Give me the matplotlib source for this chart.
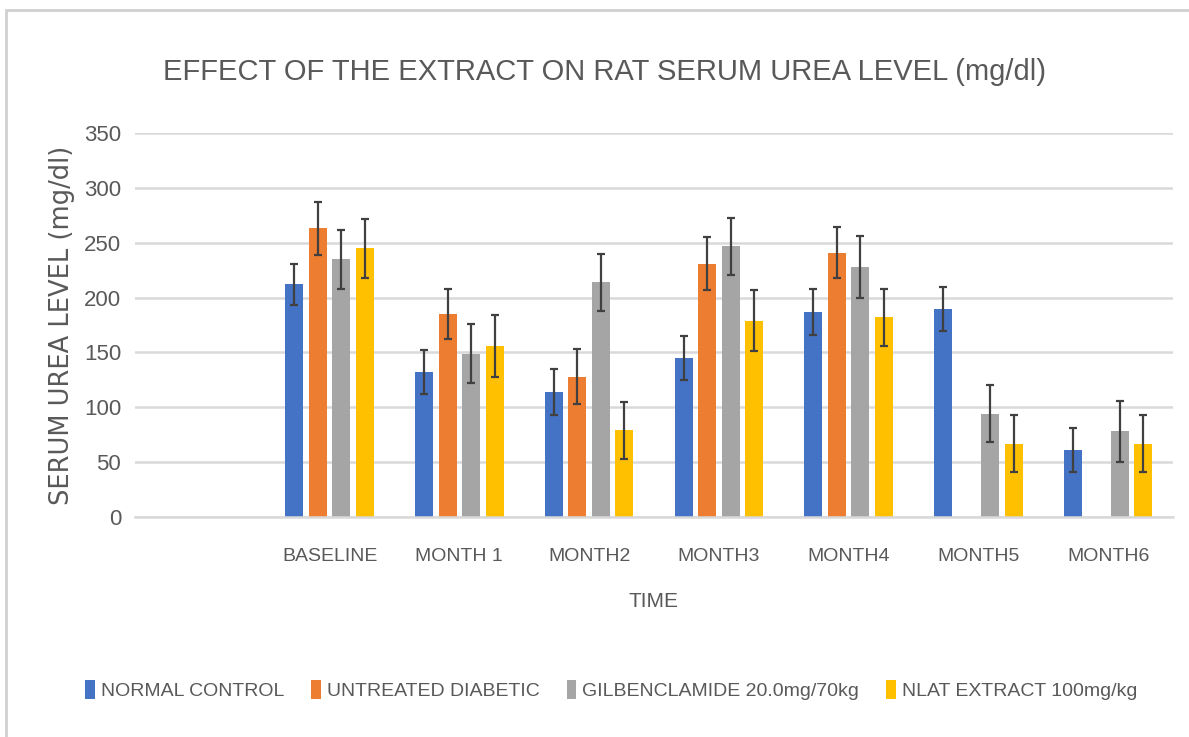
import numpy as np
import matplotlib.pyplot as plt
from matplotlib.patches import Rectangle

# Data
categories = ["", "BASELINE", "MONTH 1", "MONTH2", "MONTH3", "MONTH4", "MONTH5", "MONTH6"]
series_names = ["NORMAL CONTROL", "UNTREATED DIABETIC",
                "GILBENCLAMIDE 20.0mg/70kg", "NLAT EXTRACT 100mg/kg"]

normal = [np.nan, 212, 132, 114, 145, 187, 190, 61]
untreated = [np.nan, 263, 185, 128, 231, 241, np.nan, np.nan]
gliben = [np.nan, 235, 149, 214, 247, 228, 94, 78]
nlat = [np.nan, 245, 156, 79, 179, 182, 67, 67]

normal_err = [0, 19, 20, 21, 20, 21, 20, 20]
untreated_err = [0, 24, 23, 25, 24, 23, 0, 0]
gliben_err = [0, 27, 27, 26, 26, 28, 26, 28]
nlat_err = [0, 27, 28, 26, 28, 26, 26, 26]

colors = ["#4472C4", "#ED7D31", "#A5A5A5", "#FFC000"]

font_narrow = ["Liberation Sans", "DejaVu Sans"]
text_color = "#595959"

fig = plt.figure(figsize=(11.89, 7.37), dpi=100)
ax = fig.add_axes([0.1135, 0.2985, 0.873, 0.521])

x = np.arange(len(categories))
step = 0.181
width = 0.139
values = [normal, untreated, gliben, nlat]
errors = [normal_err, untreated_err, gliben_err, nlat_err]

for i in range(4):
    pos = x + (i - 1.5) * step
    vals = np.array(values[i], dtype=float)
    errs = np.array(errors[i], dtype=float)
    mask = ~np.isnan(vals)
    ax.bar(pos[mask], vals[mask], width, color=colors[i], label=series_names[i], zorder=2)
    ax.errorbar(pos[mask], vals[mask], yerr=errs[mask], fmt="none", ecolor="#404040",
                elinewidth=1.6, capsize=3.2, capthick=1.6, zorder=3)

ax.set_xlim(-0.5, 7.5)
ax.set_ylim(0, 350)
ax.set_yticks(np.arange(0, 351, 50))
ax.grid(axis="y", color="#D9D9D9", linewidth=1.8, zorder=0)
ax.set_axisbelow(True)
for s in ["top", "right", "left"]:
    ax.spines[s].set_visible(False)
ax.spines["bottom"].set_color("#D9D9D9")
ax.spines["bottom"].set_linewidth(1.8)
ax.tick_params(length=0, pad=10, colors=text_color)
ax.set_xticks(x)
ax.set_xticklabels(categories, fontsize=14, family=font_narrow, color=text_color)
for lab in ax.get_yticklabels():
    lab.set_fontsize(16)
    lab.set_family(font_narrow)
ax.tick_params(axis="x", pad=22)

ax.set_xlabel("TIME", fontsize=15, family=font_narrow, color=text_color, labelpad=20)
ax.set_ylabel("SERUM UREA LEVEL (mg/dl)", fontsize=18.5, family="DejaVu Sans",
              color=text_color, labelpad=6)

fig.text(0.508, 0.902, "EFFECT OF THE EXTRACT ON RAT SERUM UREA LEVEL (mg/dl)",
         ha="center", va="center", fontsize=21, family=font_narrow, color=text_color)

leg = fig.legend(loc="center", bbox_to_anchor=(0.514, 0.064), ncol=4, frameon=False,
                 prop={"family": font_narrow, "size": 14}, handlelength=0.5,
                 handleheight=1.2, handletextpad=0.3, columnspacing=1.4)
for t in leg.get_texts():
    t.set_color(text_color)

# chart border
fig.add_artist(Rectangle((0.005, -0.05), 1.2, 1.037, transform=fig.transFigure,
                         fill=False, edgecolor="#D0D0D0", linewidth=2))

fig.savefig("out.png", dpi=100, facecolor="white")
